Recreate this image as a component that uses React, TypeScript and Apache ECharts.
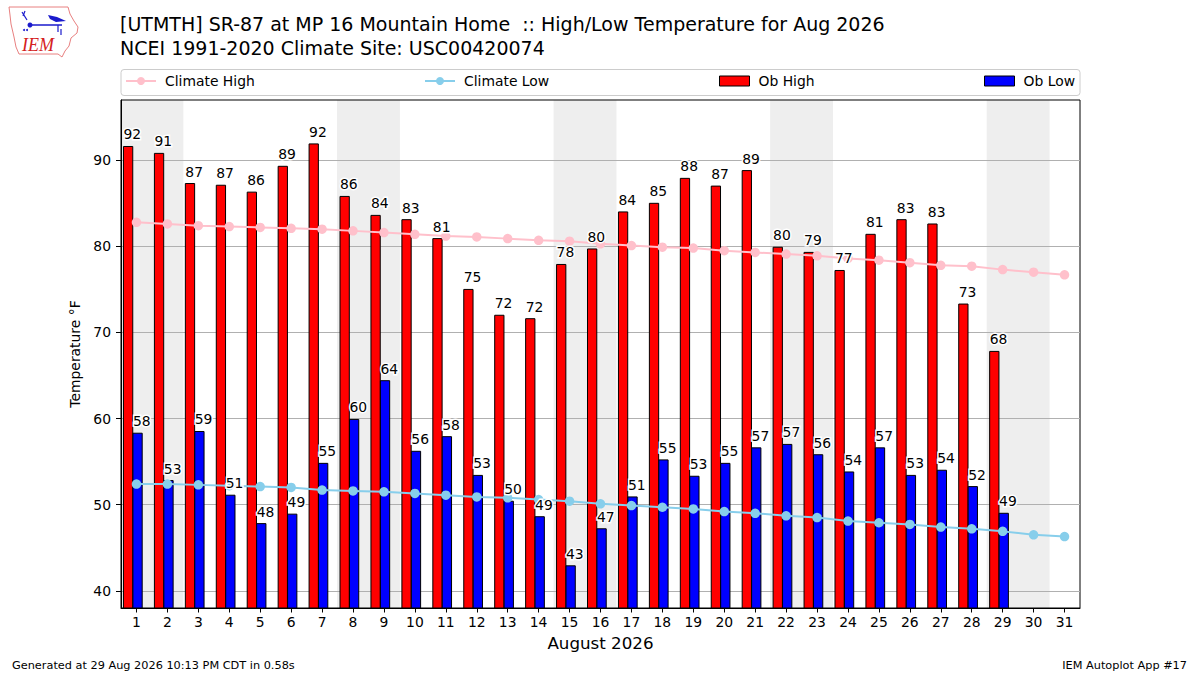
import React, { useEffect, useRef } from "react";
import * as echarts from "echarts";

const FONT = "DejaVu Sans";

const dayLabels = [
  "1", "2", "3", "4", "5", "6", "7", "8", "9", "10", "11", "12", "13", "14", "15", "16",
  "17", "18", "19", "20", "21", "22", "23", "24", "25", "26", "27", "28", "29", "30", "31",
];

const weekendDays = ["1", "2", "8", "9", "15", "16", "22", "23", "29", "30"];

const obHigh = [
  91.6, 90.8, 87.3, 87.1, 86.3, 89.3, 91.9, 85.8, 83.6, 83.1, 80.9, 75.0, 72.0, 71.6, 77.9,
  79.7, 84.0, 85.0, 87.9, 87.0, 88.8, 79.9, 79.3, 77.2, 81.4, 83.1, 82.6, 73.3, 67.8,
];

const obLow = [
  58.3, 52.8, 58.5, 51.1, 47.8, 48.9, 54.8, 59.9, 64.4, 56.2, 57.9, 53.4, 50.4, 48.6, 42.9,
  47.2, 50.9, 55.2, 53.3, 54.8, 56.6, 57.0, 55.8, 53.8, 56.6, 53.4, 54.0, 52.1, 49.0,
];

const climateHigh = [
  82.8, 82.6, 82.4, 82.3, 82.2, 82.1, 82.0, 81.8, 81.6, 81.4, 81.2, 81.1, 80.9, 80.7, 80.6,
  80.3, 80.1, 79.9, 79.8, 79.5, 79.3, 79.1, 78.9, 78.6, 78.4, 78.1, 77.8, 77.7, 77.3, 77.0, 76.7,
];

const climateLow = [
  52.4, 52.4, 52.3, 52.2, 52.1, 52.0, 51.7, 51.6, 51.5, 51.3, 51.1, 50.9, 50.8, 50.6, 50.4,
  50.1, 49.9, 49.7, 49.5, 49.2, 49.0, 48.7, 48.5, 48.1, 47.9, 47.7, 47.4, 47.2, 46.9, 46.5, 46.3,
];

const yTicks = [40, 50, 60, 70, 80, 90];
const Y_MIN = 38;
const Y_MAX = 97;

const BAR_FRAC = 0.3;
const HIGH_LEFT = -0.42;
const LOW_LEFT = -0.115;

function barSeries(name: string, values: number[], color: string, leftFrac: number) {
  return {
    type: "custom",
    name,
    z: 2,
    data: values.map((v, i) => [i, v]),
    encode: { x: 0, y: 1 },
    itemStyle: { color, borderColor: "#000", borderWidth: 1 },
    renderItem: (params: any, api: any) => {
      const i = api.value(0);
      const v = api.value(1);
      const top = api.coord([i, v]);
      const base = api.coord([i, Y_MIN]);
      const band = api.size([1, 0])[0];
      return {
        type: "rect",
        shape: {
          x: top[0] + leftFrac * band,
          y: top[1],
          width: BAR_FRAC * band,
          height: base[1] - top[1],
        },
        style: { fill: color, stroke: "#000", lineWidth: 1 },
      };
    },
  };
}

function labelSeries(name: string, values: number[], leftFrac: number) {
  return {
    type: "custom",
    name,
    z: 5,
    data: values.map((v, i) => [i, v]),
    encode: { x: 0, y: 1 },
    renderItem: (params: any, api: any) => {
      const i = api.value(0);
      const v = api.value(1);
      const top = api.coord([i, v]);
      const band = api.size([1, 0])[0];
      return {
        type: "text",
        x: top[0] + leftFrac * band,
        y: top[1] - 5,
        style: {
          text: String(Math.round(v)),
          fill: "#000",
          fontSize: 13.9,
          fontFamily: FONT,
          align: "left",
          verticalAlign: "bottom",
          stroke: "#fff",
          lineWidth: 3,
        },
      };
    },
  };
}

function lineSeries(name: string, values: number[], color: string) {
  return {
    type: "line",
    name,
    z: 3,
    data: values,
    symbol: "circle",
    symbolSize: 9.5,
    showAllSymbol: true,
    itemStyle: { color },
    lineStyle: { color, width: 2 },
    emphasis: { disabled: true },
  };
}

const iowaOutline = [
  [9, 7], [68, 7], [70, 14], [74, 21], [78, 27], [77, 33], [71, 38], [69, 46], [65, 51],
  [62, 57], [58, 54], [19, 54], [16, 47], [14, 37], [11, 24], [10, 15],
];

export default function App() {
  const ref = useRef<HTMLDivElement>(null);

  useEffect(() => {
    document.body.style.margin = "0";
    if (!ref.current) return;
    const chart = echarts.init(ref.current, undefined, { renderer: "svg" });

    const legendCommon = {
      top: 74,
      padding: 0,
      itemGap: 0,
      itemWidth: 30,
      itemHeight: 10,
      textStyle: { fontSize: 13.9, fontFamily: FONT, color: "#000", padding: [0, 0, 0, 4] },
      selectedMode: false,
    };

    const option: any = {
      animation: false,
      backgroundColor: "#fff",
      textStyle: { fontFamily: FONT },
      title: {
        text:
          "[UTMTH] SR-87 at MP 16 Mountain Home  :: High/Low Temperature for Aug 2026\nNCEI 1991-2020 Climate Site: USC00420074",
        left: 115,
        top: 7,
        textStyle: {
          fontSize: 19,
          fontWeight: "normal",
          fontFamily: FONT,
          color: "#000",
          lineHeight: 24,
        },
      },
      legend: [
        { ...legendCommon, left: 125, data: ["Climate High"] },
        { ...legendCommon, left: 424, data: ["Climate Low"] },
        {
          ...legendCommon,
          left: 719,
          data: [
            { name: "Ob High", icon: "rect", itemStyle: { color: "#ff0000", borderColor: "#000", borderWidth: 1 } },
          ],
        },
        {
          ...legendCommon,
          left: 984,
          data: [
            { name: "Ob Low", icon: "rect", itemStyle: { color: "#0000ff", borderColor: "#000", borderWidth: 1 } },
          ],
        },
      ],
      grid: {
        left: 121,
        right: 120,
        top: 100,
        bottom: 67,
        show: true,
        borderColor: "#000",
        borderWidth: 1,
        backgroundColor: "transparent",
      },
      xAxis: {
        type: "category",
        data: dayLabels,
        boundaryGap: true,
        name: "August 2026",
        nameLocation: "middle",
        nameGap: 26,
        nameTextStyle: { fontSize: 16.7, fontFamily: FONT, color: "#000" },
        axisLine: { show: true, lineStyle: { color: "#000", width: 1 } },
        axisTick: { show: true, alignWithLabel: true, length: 4.5, lineStyle: { color: "#000" } },
        axisLabel: { fontSize: 13.9, fontFamily: FONT, color: "#000", margin: 7, interval: 0 },
        splitLine: { show: false },
      },
      yAxis: {
        type: "value",
        min: Y_MIN,
        max: Y_MAX,
        name: "Temperature °F",
        nameLocation: "middle",
        nameRotate: 90,
        nameGap: 31,
        nameTextStyle: { fontSize: 13.9, fontFamily: FONT, color: "#000" },
        axisLine: { show: true, lineStyle: { color: "#000", width: 1 } },
        axisTick: { show: true, length: 5, lineStyle: { color: "#000" }, customValues: yTicks },
        axisLabel: { fontSize: 13.9, fontFamily: FONT, color: "#000", margin: 10, customValues: yTicks },
        splitLine: { show: true, lineStyle: { color: "#b0b0b0", width: 1 } },
      },
      series: [
        {
          type: "custom",
          name: "weekend",
          z: -1,
          silent: true,
          data: weekendDays.map((d) => [d, Y_MAX]),
          encode: { x: 0, y: 1 },
          renderItem: (params: any, api: any) => {
            const idx = api.value(0);
            const top = api.coord([idx, Y_MAX]);
            const bottom = api.coord([idx, Y_MIN]);
            const band = api.size([1, 0])[0];
            return {
              type: "rect",
              shape: { x: top[0] - band / 2 - 0.5, y: top[1], width: band + 1, height: bottom[1] - top[1] },
              style: { fill: "#eeeeee" },
            };
          },
        },
        barSeries("Ob High", obHigh, "#ff0000", HIGH_LEFT),
        barSeries("Ob Low", obLow, "#0000ff", LOW_LEFT),
        lineSeries("Climate High", climateHigh, "#ffc0cb"),
        lineSeries("Climate Low", climateLow, "#87ceeb"),
        labelSeries("highLabels", obHigh, HIGH_LEFT),
        labelSeries("lowLabels", obLow, LOW_LEFT),
      ],
      graphic: [
        {
          type: "rect",
          z: 1,
          shape: { x: 121, y: 69.5, width: 959, height: 26, r: 3 },
          style: { fill: "#fff", stroke: "#cccccc", lineWidth: 1 },
        },
        {
          type: "polygon",
          z: 1,
          shape: { points: iowaOutline },
          style: { fill: "#fff", stroke: "#e88080", lineWidth: 1 },
        },
        { type: "line", z: 2, shape: { x1: 30, y1: 25, x2: 62, y2: 25 }, style: { stroke: "#1a1acc", lineWidth: 1.5 } },
        { type: "circle", z: 2, shape: { cx: 30, cy: 25, r: 2.5 }, style: { fill: "#1a1acc" } },
        {
          type: "polygon",
          z: 2,
          shape: { points: [[48, 15], [57, 17], [66, 21], [56, 22], [50, 19]] },
          style: { fill: "#1a1acc" },
        },
        { type: "line", z: 2, shape: { x1: 58, y1: 25, x2: 58, y2: 32 }, style: { stroke: "#1a1acc", lineWidth: 1.2 } },
        { type: "line", z: 2, shape: { x1: 61, y1: 29, x2: 61, y2: 35 }, style: { stroke: "#1a1acc", lineWidth: 1.2 } },
        { type: "line", z: 2, shape: { x1: 22, y1: 12, x2: 27, y2: 20 }, style: { stroke: "#1a1acc", lineWidth: 1.2 } },
        { type: "line", z: 2, shape: { x1: 25, y1: 11, x2: 23, y2: 16 }, style: { stroke: "#1a1acc", lineWidth: 1.2 } },
        { type: "circle", z: 2, shape: { cx: 24, cy: 30, r: 1 }, style: { fill: "#1a1acc" } },
        { type: "circle", z: 2, shape: { cx: 27, cy: 30, r: 1 }, style: { fill: "#1a1acc" } },
        {
          type: "text",
          z: 2,
          x: 22,
          y: 45,
          style: {
            text: "IEM",
            fill: "#d42020",
            fontSize: 18,
            fontFamily: "Liberation Serif",
            fontStyle: "italic",
            align: "left",
            verticalAlign: "middle",
          },
        },
        {
          type: "text",
          x: 12,
          y: 665,
          style: {
            text: "Generated at 29 Aug 2026 10:13 PM CDT in 0.58s",
            fill: "#000",
            fontSize: 11.3,
            fontFamily: FONT,
            align: "left",
            verticalAlign: "middle",
          },
        },
        {
          type: "text",
          x: 1187,
          y: 665,
          style: {
            text: "IEM Autoplot App #17",
            fill: "#000",
            fontSize: 11.3,
            fontFamily: FONT,
            align: "right",
            verticalAlign: "middle",
          },
        },
      ],
    };

    chart.setOption(option);
    return () => chart.dispose();
  }, []);

  return <div ref={ref} style={{ width: 1200, height: 675 }} />;
}
